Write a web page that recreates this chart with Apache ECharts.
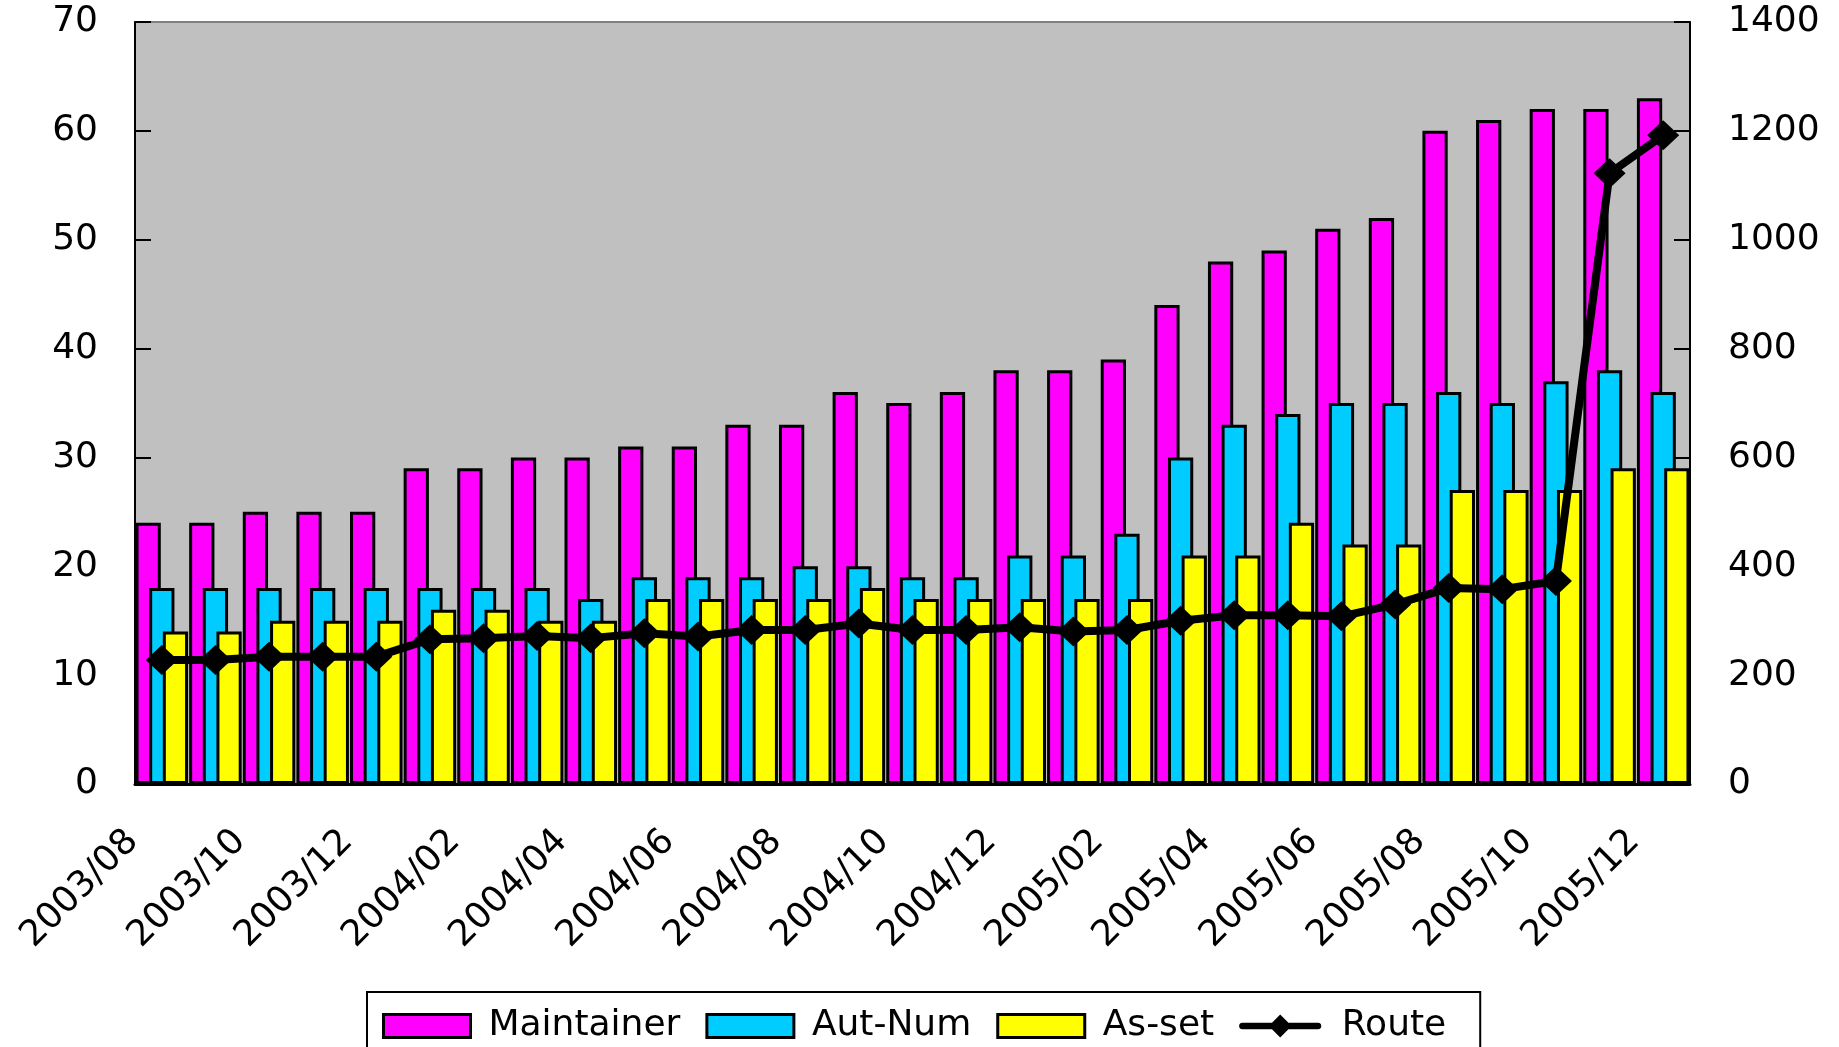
<!DOCTYPE html>
<html>
<head>
<meta charset="utf-8">
<script src="https://cdn.jsdelivr.net/npm/echarts@6/dist/echarts.min.js"></script>
<style>
html,body{margin:0;padding:0;background:#fff;}
#c{width:1839px;height:1047px;}
</style>
</head>
<body>
<div id="c"></div>
<script>
const categories = ['2003/08','2003/09','2003/10','2003/11','2003/12',
  '2004/01','2004/02','2004/03','2004/04','2004/05','2004/06','2004/07','2004/08','2004/09','2004/10','2004/11','2004/12',
  '2005/01','2005/02','2005/03','2005/04','2005/05','2005/06','2005/07','2005/08','2005/09','2005/10','2005/11','2005/12'];
const maintainer = [24,24,25,25,25,29,29,30,30,31,31,33,33,36,35,36,38,38,39,44,48,49,51,52,60,61,62,62,63];
const autNum     = [18,18,18,18,18,18,18,18,17,19,19,19,20,20,19,19,21,21,23,30,33,34,35,35,36,35,37,38,36];
const asSet      = [14,14,15,15,15,16,16,15,15,17,17,17,17,18,17,17,17,17,17,21,21,24,22,22,27,27,27,29,29];
const route      = [228,228,234,234,234,266,268,272,268,277,271,283,283,295,283,283,288,280,283,300,310,310,308,330,360,358,373,1122,1192];
const leftTicks  = {min:0, max:70, interval:10};
const rightTicks = {min:0, max:1400, interval:200};

const FONT = 'DejaVu Sans';
const FS = 36;
const chart = echarts.init(document.getElementById('c'), null, {renderer:'canvas'});
const barStyle = c => ({color:c, borderColor:'#000', borderWidth:3});
const legendBar = c => ({color:c, borderColor:'#000', borderWidth:3});
const routeIcon = 'path://M4,10 L40,10 L50,0 L60,10 L96,10 C99,10 100,12 100,14 C100,16 99,18 96,18 L60,18 L50,28 L40,18 L4,18 C1,18 0,16 0,14 C0,12 1,10 4,10 Z';
chart.setOption({
  animation:false,
  backgroundColor:'#ffffff',
  textStyle:{fontFamily:FONT, color:'#000'},
  grid:{left:135, right:149, top:22, bottom:263, show:true, backgroundColor:'#c0c0c0', borderColor:'#808080', borderWidth:2},
  legend:{
    left:367, top:992, orient:'horizontal',
    padding:[16,34,30,15],
    borderColor:'#000', borderWidth:2,
    itemWidth:87, itemHeight:23, itemGap:25,
    textStyle:{fontFamily:FONT, fontSize:FS, color:'#000', padding:[0,0,0,13]},
    data:[
      {name:'Maintainer', icon:'rect', itemStyle:legendBar('#ff00ff')},
      {name:'Aut-Num', icon:'rect', itemStyle:legendBar('#00ccff')},
      {name:'As-set', icon:'rect', itemStyle:legendBar('#ffff00')},
      {name:'Route', icon:routeIcon, itemStyle:{color:'#000', borderWidth:0}}
    ]
  },
  xAxis:{
    type:'category', data:categories,
    axisLine:{lineStyle:{color:'#000', width:3}},
    axisTick:{show:false},
    axisLabel:{interval:1, rotate:45, fontSize:FS, fontFamily:FONT, color:'#000', margin:23, padding:[0,41,0,0]},
    splitLine:{show:false}
  },
  yAxis:[
    {type:'value', min:leftTicks.min, max:leftTicks.max, interval:leftTicks.interval, position:'left',
     axisLine:{show:true, lineStyle:{color:'#000', width:2}},
     axisTick:{show:true, inside:true, length:16, lineStyle:{color:'#000', width:2}},
     axisLabel:{fontSize:FS, fontFamily:FONT, color:'#000', margin:37, formatter:v=>String(v)},
     splitLine:{show:false}},
    {type:'value', min:rightTicks.min, max:rightTicks.max, interval:rightTicks.interval, position:'right',
     axisLine:{show:true, lineStyle:{color:'#000', width:2}},
     axisTick:{show:true, inside:true, length:16, lineStyle:{color:'#000', width:2}},
     axisLabel:{fontSize:FS, fontFamily:FONT, color:'#000', margin:38, formatter:v=>String(v)},
     splitLine:{show:false}}
  ],
  series:[
    {name:'Maintainer', type:'bar', data:maintainer, itemStyle:barStyle('#ff00ff'), barGap:'-46%', barCategoryGap:'2%'},
    {name:'Aut-Num', type:'bar', data:autNum, itemStyle:barStyle('#00ccff'), barGap:'-46%', barCategoryGap:'2%'},
    {name:'As-set', type:'bar', data:asSet, itemStyle:barStyle('#ffff00'), barGap:'-46%', barCategoryGap:'2%'},
    {name:'Route', type:'line', yAxisIndex:1, data:route, z:5,
     lineStyle:{color:'#000', width:8}, itemStyle:{color:'#000'},
     symbol:'diamond', symbolSize:[32,30], showAllSymbol:true}
  ]
});
</script>
</body>
</html>
